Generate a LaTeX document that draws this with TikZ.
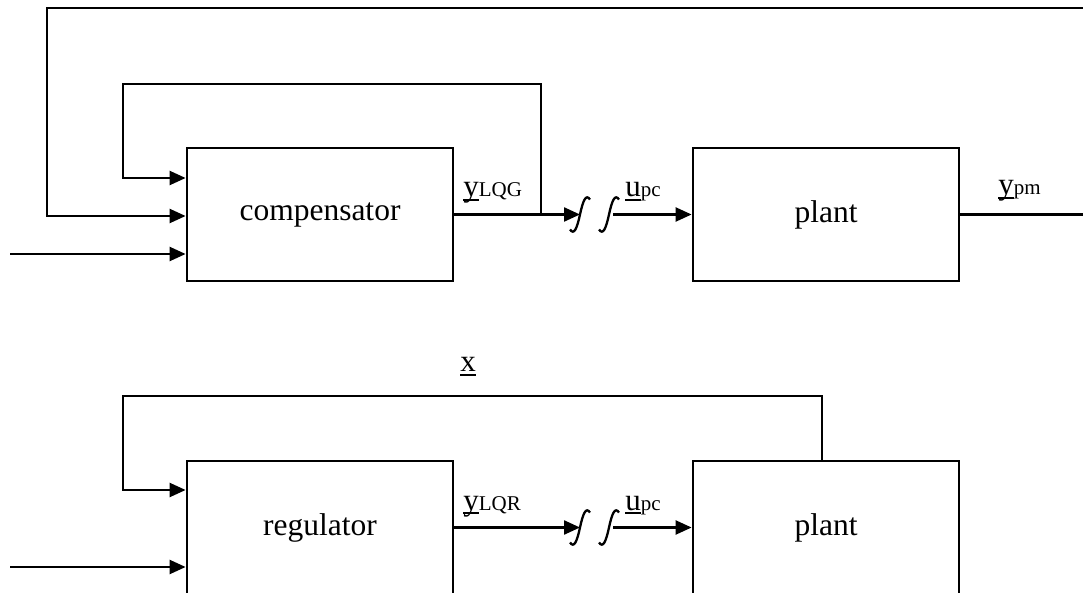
\documentclass[tikz,border=0pt]{standalone}
\usepackage{fontspec}
\setmainfont{Liberation Serif}
\usetikzlibrary{positioning,arrows.meta,calc}

% underlined signal name with a small index
\newcommand{\ulsig}[1]{\setbox0\hbox{#1}\rlap{\rule[-0.14em]{\wd0}{0.07em}}\box0}
\newcommand{\sig}[2]{\ulsig{#1}{\fontsize{10.5}{12}\selectfont #2}}

\begin{document}
\begin{tikzpicture}[
  x=0.5pt, y=-0.5pt,
  node distance=88.6pt and 118.6pt,
  block/.style={rectangle, draw, line width=1.4pt, minimum width=133pt,
                minimum height=66.5pt, inner sep=0pt,
                font=\fontsize{15.75}{19}\selectfont},
  line/.style={line width=1.15pt},
  arrow/.style={line, -{Triangle[length=8pt,width=7pt]}},
  lab/.style={inner sep=0pt, anchor=base west, font=\fontsize{15.5}{18}\selectfont},
  swhalf/.pic={\draw[line] (-10,15) .. controls (-6,21) and (-3,14) .. (0,0)
                .. controls (3,-14) and (6,-21) .. (10,-15);}
]
\useasboundingbox (0,0) rectangle (1083,593);

% Upper loop
\node[block] (comp) at (320,214.5) {compensator};
\node[block, right=of comp] (plantA) {plant};

% Lower loop
\node[block, below=of comp] (reg) {regulator};
\node[block, right=of reg] (plantB) {plant};

% Points
\coordinate (inA1) at ($(comp.west)+(0,-36.5)$);
\coordinate (inA2) at ($(comp.west)+(0,1.5)$);
\coordinate (inA3) at ($(comp.west)+(0,39.5)$);
\coordinate (inB1) at ($(reg.west)+(0,-37.5)$);
\coordinate (inB2) at ($(reg.west)+(0,39.5)$);
\coordinate (swA1) at (580,0 |- comp.east);
\coordinate (swA2) at (609,0 |- comp.east);
\coordinate (swB1) at (580,0 |- reg.east);
\coordinate (swB2) at (609,0 |- reg.east);
\coordinate (tapA) at (541,0 |- comp.east);
\coordinate (tapB) at ($(plantB.north)+(-4,0)$);
\coordinate (outA) at (1083,0 |- plantA.east);
\coordinate (topA) at (1083,8);

% Switches
\pic at (swA1) {swhalf};
\pic at (swA2) {swhalf};
\pic at (swB1) {swhalf};
\pic at (swB2) {swhalf};

% Arrows
\draw[arrow] (10,0 |- inA3) -- (inA3);
\draw[arrow] (topA) -| (47,0 |- inA2) -- (inA2);
\draw[arrow] (tapA) |- (123,84) |- (inA1);
\draw[arrow] (comp.east) -- (swA1);
\draw[arrow] ($(swA2)+(4,0)$) -- (plantA.west);
\draw[line] (plantA.east) -- (outA);

\draw[arrow] (10,0 |- inB2) -- (inB2);
\draw[arrow] (tapB) |- (123,396) |- (inB1);
\draw[arrow] (reg.east) -- (swB1);
\draw[arrow] ($(swB2)+(4,0)$) -- (plantB.west);

% Labels
\node[lab] (lqg) at (463,197) {\sig{y}{LQG}};
\node[lab] (upcA) at (625,197) {\sig{u}{pc}};
\node[lab] (ypm) at (998,195) {\sig{y}{pm}};
\node[lab, anchor=base] (xst) at (468,372) {\ulsig{x}};
\node[lab] (lqr) at (463,510) {\sig{y}{LQR}};
\node[lab] (upcB) at (625,510) {\sig{u}{pc}};

\end{tikzpicture}
\end{document}
